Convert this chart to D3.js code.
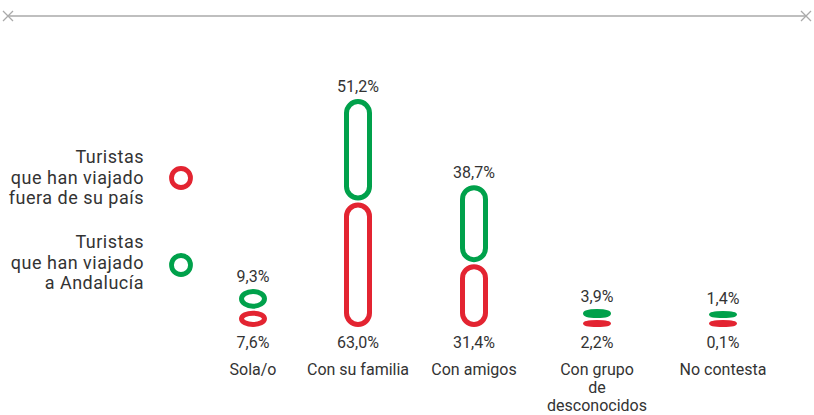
<!DOCTYPE html>
<html>
<head>
    <meta charset="utf-8">
    <style>
        body { margin: 0; background: #fff; }
        svg { display: block; font-family: Roboto, 'Noto Sans', sans-serif; }
        .val, .cat { font-size: 16px; fill: #333; text-anchor: middle; }
        .leg { font-size: 18px; fill: #333; text-anchor: end; letter-spacing: 0.5px; }
    </style>
</head>
<body>
<svg width="814" height="415"></svg>

<script src="https://d3js.org/d3.v7.min.js"></script>
<script>
    // data
    let categories = ["Sola/o", "Con su familia", "Con amigos", "Con grupo de desconocidos", "No contesta"]
    let catLines = [["Sola/o"], ["Con su familia"], ["Con amigos"], ["Con grupo", "de", "desconocidos"], ["No contesta"]]
    let abroad = [7.6, 63.0, 31.4, 2.2, 0.1]      // red, fuera de su país
    let andalucia = [9.3, 51.2, 38.7, 3.9, 1.4]   // green, Andalucía
    let legendAbroad = ["Turistas", "que han viajado", "fuera de su país"]
    let legendAndalucia = ["Turistas", "que han viajado", "a Andalucía"]

    let red = "#e32431"
    let green = "#00a14b"
    let grey = "#aaaaaa"

    let svg = d3.select("svg")
    let base = 327
    let sw = 5
    let pillW = 28
    let gap = 2

    // centres of the columns
    let xPos = d3.scaleOrdinal()
        .domain(categories)
        .range([253, 358, 474, 597, 723])

    // outer height of a pill
    let h = d3.scaleLinear().domain([0, 63]).range([1.5, 124.5])
    let outer = v => Math.max(7, h(v))

    let fmt = v => d3.format(".1f")(v).replace(".", ",") + "%"

    // top rule with crosses
    svg.append("line")
        .attr("x1", 8).attr("x2", 806).attr("y1", 16).attr("y2", 16)
        .attr("stroke", grey).attr("stroke-width", 1.5)
    ;[8, 806].forEach(cx => {
        svg.append("path")
            .attr("d", `M${cx - 5},${11} L${cx + 5},${21} M${cx - 5},${21} L${cx + 5},${11}`)
            .attr("stroke", grey).attr("stroke-width", 1.3).attr("fill", "none")
    })

    function pill(g, cx, top, oh, color) {
        let rw = pillW - sw
        let rh = Math.max(0.4, oh - sw)
        g.append("rect")
            .attr("x", cx - rw / 2)
            .attr("y", top + sw / 2)
            .attr("width", rw)
            .attr("height", rh)
            .attr("rx", rw / 2)
            .attr("ry", Math.min(rw / 2, rh / 2))
            .attr("fill", oh < 9 ? color : "none")
            .attr("stroke", color)
            .attr("stroke-width", sw)
    }

    let g = svg.append("g")
    categories.forEach((c, i) => {
        let cx = xPos(c)
        let rh = outer(abroad[i])
        let redTop = base - rh
        pill(g, cx, redTop, rh, red)
        let gh = outer(andalucia[i])
        let greenTop = redTop - gap - gh
        pill(g, cx, greenTop, gh, green)

        g.append("text").attr("class", "val")
            .attr("x", cx).attr("y", greenTop - 7)
            .text(fmt(andalucia[i]))
        g.append("text").attr("class", "val")
            .attr("x", cx).attr("y", 348)
            .text(fmt(abroad[i]))

        catLines[i].forEach((t, j) => {
            g.append("text").attr("class", "cat")
                .attr("x", cx).attr("y", 375 + j * 18)
                .text(t)
        })
    })

    // legend
    function legend(lines, y0, cy, color) {
        lines.forEach((t, j) => {
            svg.append("text").attr("class", "leg")
                .attr("x", 144).attr("y", y0 + j * 20.5)
                .text(t)
        })
        svg.append("circle")
            .attr("cx", 181).attr("cy", cy).attr("r", 9.5)
            .attr("fill", "none").attr("stroke", color).attr("stroke-width", 4.8)
    }
    legend(legendAbroad, 163, 178, red)
    legend(legendAndalucia, 248, 265, green)
</script>
</body>
</html>
